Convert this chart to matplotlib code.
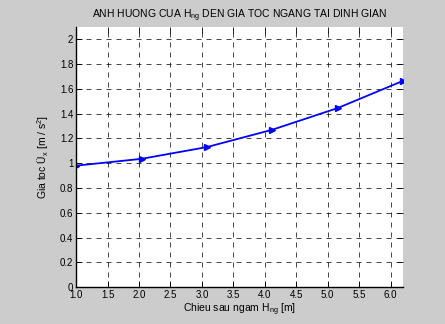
import numpy as np
import matplotlib
matplotlib.use("Agg")
import matplotlib.pyplot as plt

# du lieu doc tu hinh
H_ng = [1.0, 2.04, 3.08, 4.12, 5.16, 6.2]
gia_toc = [0.98, 1.035, 1.13, 1.27, 1.445, 1.665]

x_ticks = np.arange(1.0, 6.01, 0.5)
x_labels = ["%.1f" % v for v in x_ticks]
y_ticks = np.round(np.arange(0, 2.01, 0.2), 1)
y_labels = ["%g" % v for v in y_ticks]

plt.rcParams['font.family'] = ['Liberation Sans', 'DejaVu Sans']
plt.rcParams['mathtext.fontset'] = 'custom'
plt.rcParams['mathtext.rm'] = 'Liberation Sans'
plt.rcParams['mathtext.it'] = 'Liberation Sans'

fig = plt.figure(figsize=(4.45, 3.24), dpi=100, facecolor='#cccccc')
ax = fig.add_axes([0.171, 0.114, 0.735, 0.803])
ax.set_facecolor('white')

ax.plot(H_ng, gia_toc, color=(0, 0, 1), linewidth=1.3,
        marker='>', markersize=4.5, markerfacecolor=(0, 0, 1), markeredgecolor=(0, 0, 1))

ax.set_xlim(1.0, 6.2)
ax.set_ylim(0, 2.1)
ax.set_xticks(x_ticks)
ax.set_xticklabels(x_labels)
ax.set_yticks(y_ticks)
ax.set_yticklabels(y_labels)

ax.grid(True, color='black', linestyle=(0, (6, 6)), linewidth=0.6, alpha=0.85)
ax.tick_params(direction='in', top=True, right=True, labelsize=7, length=4,
               width=0.6, pad=2, colors='black')

for s in ['top', 'right']:
    ax.spines[s].set_visible(False)
for s in ['left', 'bottom']:
    ax.spines[s].set_linewidth(1.0)

ax.set_title("ANH HUONG CUA H$_{ng}$ DEN GIA TOC NGANG TAI DINH GIAN", fontsize=7.5, pad=6)
ax.set_xlabel("Chieu sau ngam H$_{ng}$ [m]", fontsize=7.5, labelpad=1)
ax.set_ylabel("Gia toc Ü$_x$ [m / s$^2$]", fontsize=7.5, labelpad=6)

fig.savefig("out.png", dpi=100, facecolor=fig.get_facecolor())
